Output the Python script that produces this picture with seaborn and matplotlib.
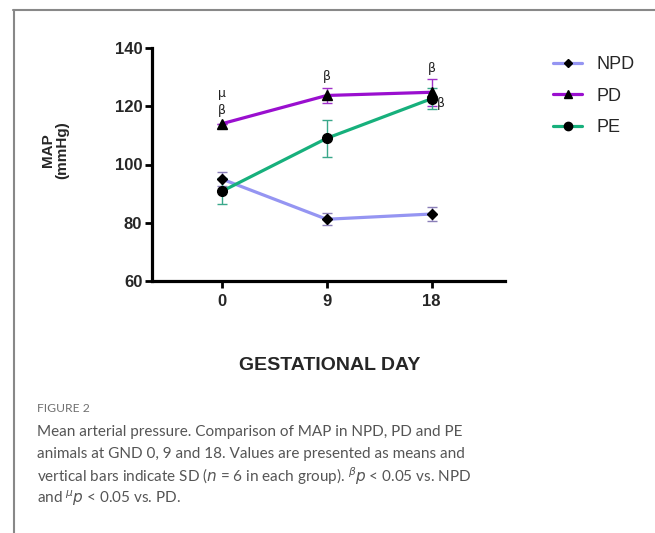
import matplotlib
matplotlib.use("Agg")
import numpy as np
import pandas as pd
import matplotlib.pyplot as plt
import seaborn as sns

days = [0, 9, 18]
groups = ["NPD", "PD", "PE"]
npd_mean = [95.0, 81.2, 83.0]
npd_sd = [2.5, 2.0, 2.3]
pd_mean = [114.0, 123.7, 124.8]
pd_sd = [0.0, 2.7, 4.6]
pe_mean = [90.8, 109.0, 122.6]
pe_sd = [4.5, 6.3, 3.5]

colors = {"NPD": "#9595f2", "PD": "#9a0fcf", "PE": "#17b07c"}
err_colors = {"NPD": "#8a7fb8", "PD": "#a030c8", "PE": "#3aa88a"}
markers = {"NPD": "D", "PD": "^", "PE": "o"}
msizes = {"NPD": 5.5, "PD": 6.5, "PE": 7}

df = pd.DataFrame({
    "day": days * 3,
    "group": [g for g in groups for _ in days],
    "map": npd_mean + pd_mean + pe_mean,
    "sd": npd_sd + pd_sd + pe_sd,
})

sns.set_style("white")
plt.rcParams["font.family"] = ["Liberation Sans", "DejaVu Sans"]

fig = plt.figure(figsize=(6.55, 5.33), dpi=100)
ax = fig.add_axes([152 / 655, 1 - 281 / 533, (505 - 152) / 655, (281 - 48) / 533])

for g in groups:
    sub = df[df["group"] == g]
    ax.errorbar(sub["day"], sub["map"], yerr=sub["sd"], fmt="none",
                ecolor=err_colors[g], elinewidth=1.0, capsize=3.5, capthick=1.0, zorder=2)

sns.lineplot(data=df, x="day", y="map", hue="group", palette=colors,
             linewidth=2.3, legend=False, ax=ax, zorder=3)
for g in groups:
    sub = df[df["group"] == g]
    ax.plot(sub["day"], sub["map"], linestyle="none", marker=markers[g],
            markersize=msizes[g], color="black", zorder=4)

# significance marks
sig = dict(ha="center", va="center", fontsize=9, family="DejaVu Sans", color="#222222")
ax.text(0, 124.3, "μ", **sig)
ax.text(0, 118.6, "β", **sig)
ax.text(9, 130.1, "β", **sig)
ax.text(18, 132.8, "β", **sig)
ax.text(18.8, 121.0, "β", **sig)

ax.set_xlim(-6, 24.3)
ax.set_ylim(60, 140)
ax.set_xticks(days)
ax.set_yticks([60, 80, 100, 120, 140])
ax.set_xlabel("")
ax.set_ylabel("")
for s in ["top", "right"]:
    ax.spines[s].set_visible(False)
for s in ["left", "bottom"]:
    ax.spines[s].set_linewidth(2.3)
    ax.spines[s].set_color("black")
ax.tick_params(axis="both", direction="out", length=5, width=2.0, color="black",
               labelsize=12, pad=2, left=True, bottom=True)
ax.tick_params(axis="x", pad=4)
for lab in ax.get_xticklabels() + ax.get_yticklabels():
    lab.set_fontweight("bold")

fig.text(55 / 655, 1 - 150 / 533, "MAP\n(mmHg)", rotation=90, ha="center", va="center",
         fontsize=11, fontweight="bold", linespacing=1.0)
fig.text(330 / 655, 1 - 366 / 533, "GESTATIONAL DAY", ha="center", va="center",
         fontsize=14, fontweight="bold")

# legend
handles = [plt.Line2D([], [], color=colors[g], linewidth=2.3, marker=markers[g],
                      markersize=msizes[g] - 1, markerfacecolor="black",
                      markeredgecolor="black") for g in groups]
fig.legend(handles, groups, loc="upper left", bbox_to_anchor=(537 / 655, 1 - 40 / 533),
           frameon=False, fontsize=13, handlelength=1.6, labelspacing=0.8,
           handletextpad=0.8)

# frame lines of the page
fig.add_artist(plt.Line2D([13 / 655, 1], [1 - 9.5 / 533, 1 - 9.5 / 533], color="#888888", linewidth=1.5))
fig.add_artist(plt.Line2D([13.5 / 655, 13.5 / 655], [0, 1 - 9.5 / 533], color="#888888", linewidth=1.5))

cap = ["Mean arterial pressure. Comparison of MAP in NPD, PD and PE",
       "animals at GND 0, 9 and 18. Values are presented as means and",
       "vertical bars indicate SD ($n$ = 6 in each group). $^{\\beta}p$ < 0.05 vs. NPD",
       "and $^{\\mu}p$ < 0.05 vs. PD."]
fig.text(37 / 655, 1 - 408 / 533, "FIGURE 2", ha="left", va="center", fontsize=8.7,
         color="#707070", family=["Lato", "DejaVu Sans"])
for i, line in enumerate(cap):
    fig.text(37 / 655, 1 - (432 + 22 * i) / 533, line, ha="left", va="center",
             fontsize=11, color="#555555", family=["Lato", "DejaVu Sans"])

fig.savefig("out.png", dpi=100)
